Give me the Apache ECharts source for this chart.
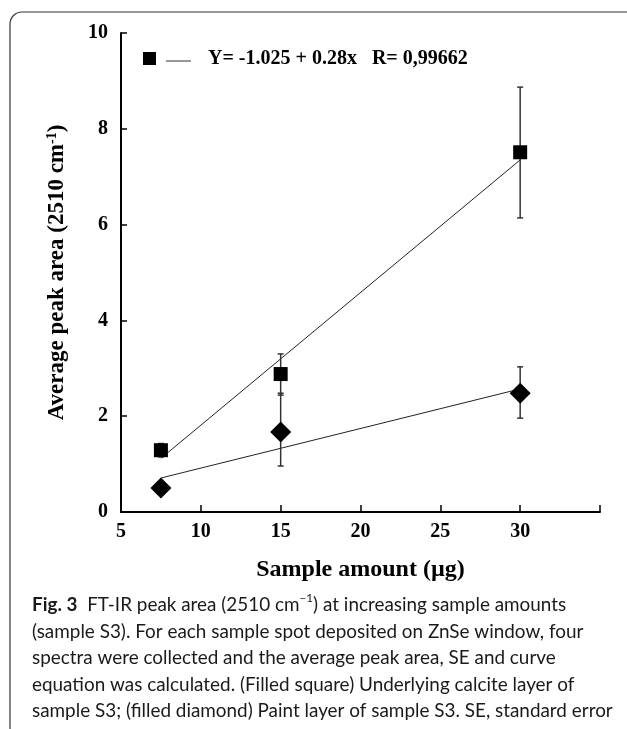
<!DOCTYPE html>
<html>
<head>
<meta charset="utf-8">
<script src="https://cdn.jsdelivr.net/npm/echarts@6/dist/echarts.min.js"></script>
<style>
  html, body { margin: 0; padding: 0; background: #fff; }
  #chart { width: 627px; height: 729px; }
</style>
</head>
<body>
<div id="chart"></div>
<script>
'use strict';

// sample amount (ug)
var amounts = [7.5, 15, 30];

// underlying calcite layer (filled square)
var squareMean = [1.29, 2.88, 7.51];
var squareLow  = [1.15, 2.44, 6.14];
var squareHigh = [1.43, 3.30, 8.87];

// paint layer (filled diamond)
var diamondMean = [0.50, 1.67, 2.48];
var diamondLow  = [0.42, 0.96, 1.96];
var diamondHigh = [0.58, 2.48, 3.03];

// fitted lines, end points
var squareFitX = [7.5, 30];
var squareFitY = [1.12, 7.35];
var diamondFitX = [7.5, 30];
var diamondFitY = [0.71, 2.57];

var xTicks = [5, 10, 15, 20, 25, 30];
var legendText = 'Y= -1.025 + 0.28x   R= 0,99662';

var captionLines = [
    '{b|Fig. 3}  FT-IR peak area (2510 cm{sup|\u22121}) at increasing sample amounts',
    '(sample S3). For each sample spot deposited on ZnSe window, four',
    'spectra were collected and the average peak area, SE and curve',
    'equation was calculated. (Filled square) Underlying calcite layer of',
    'sample S3; (filled diamond) Paint layer of sample S3. SE, standard error'
];

function pairs(xs, ys){
    var out = [];
    for(var i = 0; i < xs.length; i++){
        out.push([xs[i], ys[i]]);
    }
    return out;
}

function errRows(xs, lo, hi){
    var out = [];
    for(var i = 0; i < xs.length; i++){
        out.push([xs[i], lo[i], hi[i]]);
    }
    return out;
}

function renderErr(params, api){
    var x = api.value(0);
    var pLo = api.coord([x, api.value(1)]);
    var pHi = api.coord([x, api.value(2)]);
    var w = 3;
    var st = {stroke: '#333', lineWidth: 1.5};
    return {
        type: 'group',
        children: [
            {type: 'line', shape: {x1: pLo[0], y1: pLo[1], x2: pHi[0], y2: pHi[1]}, style: st},
            {type: 'line', shape: {x1: pLo[0] - w, y1: pLo[1], x2: pLo[0] + w, y2: pLo[1]}, style: st},
            {type: 'line', shape: {x1: pHi[0] - w, y1: pHi[1], x2: pHi[0] + w, y2: pHi[1]}, style: st}
        ]
    };
}

// caption font size so the longest line fits the same width as the figure
var capFont = 'Lato, "Noto Sans", sans-serif';
var ctx = document.createElement('canvas').getContext('2d');
ctx.font = '100px ' + capFont;
var capWidth = ctx.measureText(captionLines[4]).width;
var capSize = Math.min(19, Math.floor(584 / capWidth * 1000) / 10);

var serif = '"Liberation Serif", "Times New Roman", serif';
var myChart = echarts.init(document.getElementById('chart'), null, {renderer: 'canvas'});

var option = {
    backgroundColor: '#fff',
    animation: false,
    grid: {left: 121, right: 27, top: 33, bottom: 217},
    xAxis: {
        type: 'value',
        min: 5, max: 35, interval: 5,
        name: 'Sample amount (\u00b5g)',
        nameLocation: 'middle',
        nameGap: 46,
        nameTextStyle: {fontFamily: serif, fontWeight: 'bold', fontSize: 24, color: '#000'},
        axisLine: {lineStyle: {color: '#000', width: 2}},
        axisTick: {inside: true, length: 7, lineStyle: {color: '#000', width: 1.5}},
        axisLabel: {
            margin: 10,
            fontFamily: serif, fontWeight: 'bold', fontSize: 20, color: '#000',
            formatter: function(v){ return xTicks.indexOf(v) >= 0 ? String(v) : ''; }
        },
        splitLine: {show: false}
    },
    yAxis: {
        type: 'value',
        min: 0, max: 10, interval: 2,
        name: '{n|Average peak area (2510 cm}{sup|-1}{n|)}',
        nameLocation: 'middle',
        nameRotate: 90,
        nameGap: 52,
        nameTextStyle: {
            rich: {
                n: {fontFamily: serif, fontWeight: 'bold', fontSize: 23, color: '#000'},
                sup: {fontFamily: serif, fontWeight: 'bold', fontSize: 14, color: '#000', verticalAlign: 'top', padding: [0, 0, 10, 0]}
            }
        },
        axisLine: {lineStyle: {color: '#000', width: 2}},
        axisTick: {inside: true, length: 6, lineStyle: {color: '#000', width: 1.5}},
        axisLabel: {margin: 13, fontFamily: serif, fontWeight: 'bold', fontSize: 20, color: '#000'},
        splitLine: {show: false}
    },
    series: [
        {
            type: 'line', data: pairs(squareFitX, squareFitY),
            symbol: 'none', lineStyle: {color: '#222', width: 1}, z: 1, silent: true
        },
        {
            type: 'line', data: pairs(diamondFitX, diamondFitY),
            symbol: 'none', lineStyle: {color: '#222', width: 1}, z: 1, silent: true
        },
        {
            type: 'custom', renderItem: renderErr,
            data: errRows(amounts, squareLow, squareHigh), z: 2, silent: true
        },
        {
            type: 'custom', renderItem: renderErr,
            data: errRows(amounts, diamondLow, diamondHigh), z: 2, silent: true
        },
        {
            type: 'scatter', data: pairs(amounts, squareMean),
            symbol: 'rect', symbolSize: 14,
            itemStyle: {color: '#000', opacity: 1}, z: 3, silent: true
        },
        {
            type: 'scatter', data: pairs(amounts, diamondMean),
            symbol: 'diamond', symbolSize: 21,
            itemStyle: {color: '#000', opacity: 1}, z: 3, silent: true
        }
    ],
    graphic: [
        {
            type: 'rect', silent: true,
            shape: {x: 10, y: 12, width: 640, height: 728, r: 12},
            style: {fill: 'none', stroke: '#333', lineWidth: 1.2}
        },
        {type: 'rect', shape: {x: 143, y: 52, width: 13, height: 13}, style: {fill: '#000'}},
        {type: 'line', shape: {x1: 166, y1: 61, x2: 191, y2: 61}, style: {stroke: '#333', lineWidth: 1}},
        {
            type: 'text', x: 208, y: 59,
            style: {
                text: legendText, fill: '#000',
                font: 'bold 20px ' + serif, verticalAlign: 'middle'
            }
        },
        {
            type: 'text', x: 32, y: 592,
            style: {
                text: captionLines.join('\n'),
                fill: '#1a1a1a',
                font: capSize + 'px ' + capFont,
                lineHeight: 26.5,
                rich: {
                    b: {fontWeight: 'bold', fontSize: capSize, fontFamily: capFont, lineHeight: 26.5},
                    sup: {fontSize: capSize * 0.62, fontFamily: capFont, verticalAlign: 'top', lineHeight: 26.5, padding: [0, 0, 8, 0]}
                }
            }
        }
    ]
};

myChart.setOption(option);
</script>
</body>
</html>
